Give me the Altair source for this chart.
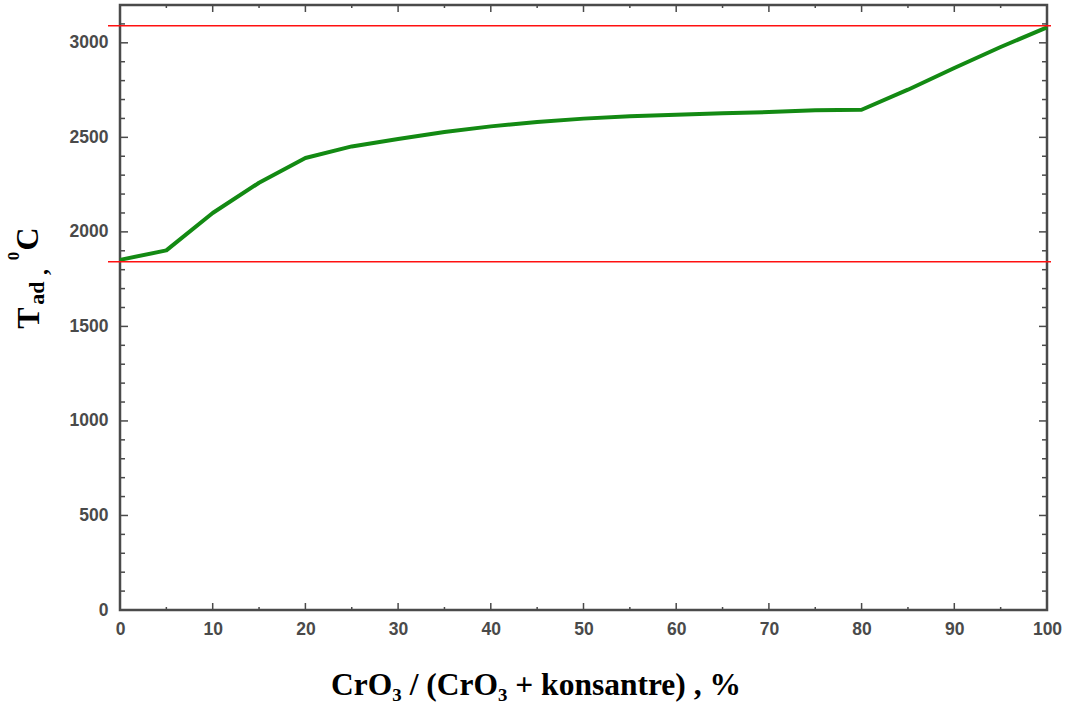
import altair as alt
import pandas as pd

# --- data ---
ratio = [0, 5, 10, 15, 20, 25, 30, 35, 40, 45, 50, 55, 60, 65, 70, 75, 80, 85, 90, 95, 100]
t_ad = [1852, 1902, 2100, 2260, 2391, 2452, 2491, 2528, 2558, 2581, 2599, 2611, 2620,
        2627, 2634, 2643, 2646, 2752, 2867, 2978, 3082]
ref_levels = [1842, 3090]

x_major = [0, 10, 20, 30, 40, 50, 60, 70, 80, 90, 100]
x_minor = [5, 15, 25, 35, 45, 55, 65, 75, 85, 95]
y_major = [0, 500, 1000, 1500, 2000, 2500, 3000]
y_minor = [v for v in range(100, 3200, 100) if v % 500 != 0]

W, H = 927, 605
FRAME = "#4a4a4a"
XS = alt.Scale(domain=[0, 100], nice=False, zero=False)
YS = alt.Scale(domain=[0, 3200], nice=False, zero=False)

XA = alt.Axis(values=x_major, ticks=False, domain=False, grid=False, title=None,
              format="d", labelFlush=False,
              labelFont="Liberation Sans", labelFontSize=17.5, labelFontWeight="bold",
              labelColor="#4a4a4a", labelPadding=10)
YA = alt.Axis(values=y_major, ticks=False, domain=False, grid=False, title=None,
              format="d", labelFlush=False,
              labelFont="Liberation Sans", labelFontSize=17.5, labelFontWeight="bold",
              labelColor="#4a4a4a", labelPadding=12)

df = pd.DataFrame({"x": ratio, "y": t_ad})
ref_df = pd.DataFrame({"y": ref_levels})
xmaj = pd.DataFrame({"x": x_major[1:-1]})
xmin = pd.DataFrame({"x": x_minor})
ymaj = pd.DataFrame({"y": y_major[1:]})
ymin = pd.DataFrame({"y": y_minor})

def X():
    return alt.X("x:Q", scale=XS, axis=XA)

def Y():
    return alt.Y("y:Q", scale=YS, axis=YA)

line = alt.Chart(df).mark_line(color="#138a13", strokeWidth=4, strokeJoin="round").encode(
    x=X(), y=Y())

refs = alt.Chart(ref_df).mark_rule(color="#ff1010", strokeWidth=1.6).encode(
    y=Y(), x=alt.value(-12), x2=alt.value(W + 4))

def yticks(d, length):
    left = alt.Chart(d).mark_rule(color=FRAME, strokeWidth=1.5).encode(
        y=Y(), x=alt.value(0), x2=alt.value(length))
    right = alt.Chart(d).mark_rule(color=FRAME, strokeWidth=1.5).encode(
        y=Y(), x=alt.value(W), x2=alt.value(W - length))
    return [left, right]

def xticks(d, length):
    bottom = alt.Chart(d).mark_rule(color=FRAME, strokeWidth=1.5).encode(
        x=X(), y=alt.value(H), y2=alt.value(H - length))
    top = alt.Chart(d).mark_rule(color=FRAME, strokeWidth=1.5).encode(
        x=X(), y=alt.value(0), y2=alt.value(length))
    return [bottom, top]

tick_layers = yticks(ymaj, 8) + yticks(ymin, 5) + xticks(xmaj, 7) + xticks(xmin, 3)

# --- titles (with sub/superscripts) ---
serif = "Liberation Serif"
def txt(s, x, y, size, angle=0, align="center", baseline="middle"):
    return alt.Chart(pd.DataFrame({"t": [s]})).mark_text(
        font=serif, fontWeight="bold", fontSize=size, color="black",
        angle=angle, align=align, baseline=baseline
    ).encode(text="t:N", x=alt.value(x), y=alt.value(y))

title_layers = [
    txt("CrO\u2083 / (CrO\u2083 + konsantre) , %", 416, 690, 31.5, baseline="alphabetic"),
    txt("T", -91, 313, 32, angle=270),
    txt("ad", -83, 288, 22, angle=270),
    txt(",", -80, 267, 24, angle=270),
    txt("0", -106, 251, 17, angle=270),
    txt("C", -92, 234, 32, angle=270),
]

chart = alt.layer(line, refs, *tick_layers, *title_layers).properties(
    width=W, height=H,
    autosize=alt.AutoSizeParams(type="none"),
    padding={"left": 120, "top": 5, "right": 22, "bottom": 101},
    background="white",
).configure_view(stroke=FRAME, strokeWidth=2.5)

chart.save("out.html", embed_options={"renderer": "svg", "actions": False})
